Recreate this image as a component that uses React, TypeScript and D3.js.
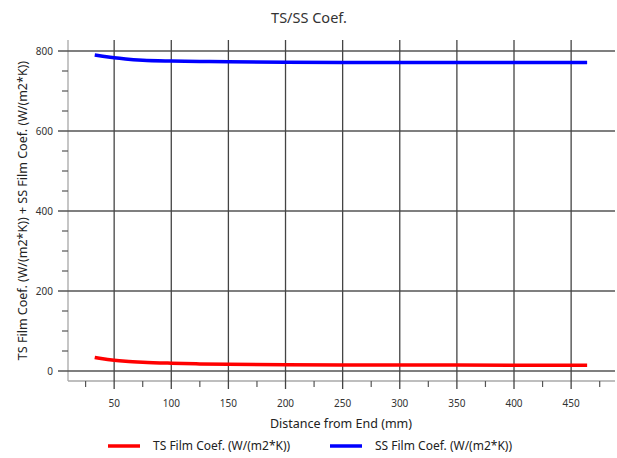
import React from "react";
import * as d3 from "d3";

const distance = [33, 40, 50, 60, 75, 100, 125, 150, 200, 250, 300, 350, 400, 450, 464];
const tsCoef = [34, 30.5, 27, 24.5, 22, 19.5, 17.8, 16.8, 15.8, 15.3, 15, 14.8, 14.6, 14.5, 14.5];
const ssCoef = [790, 787, 783, 780, 777, 775, 774, 773, 772, 771.5, 771, 771, 771, 771, 771];
const xMajorTicks = [50, 100, 150, 200, 250, 300, 350, 400, 450];
const xMinorTicks = [25, 75, 125, 175, 225, 275, 325, 375, 425, 475];
const yMajorTicks = [0, 200, 400, 600, 800];
const yMinorTicks = [50, 100, 150, 250, 300, 350, 450, 500, 550, 650, 700, 750];
const seriesNames = ["TS Film Coef. (W/(m2*K))", "SS Film Coef. (W/(m2*K))"];
const seriesColors = ["#ff0000", "#0000ff"];

const W = 617;
const H = 458;
const left = 68;
const right = 615;
const top = 40;
const bottom = 381;
const font = "'Segoe UI', 'Noto Sans', 'Open Sans', sans-serif";

export default function App() {
  const x = d3.scaleLinear().domain([9.6, 488.4]).range([left, right]);
  const y = d3.scaleLinear().domain([-25, 827.5]).range([bottom, top]);
  const line = d3
    .line<number>()
    .x((_, i) => x(distance[i]))
    .y((d) => y(d))
    .curve(d3.curveMonotoneX);
  const series = [tsCoef, ssCoef];
  const legendX = [108, 330];
  const clipRight = [297, 516];

  return (
    <svg
      width={W}
      height={H}
      style={{ position: "absolute", left: 0, top: 0, background: "#fff" }}
      fontFamily={font}
    >
      <defs>
        {legendX.map((lx, i) => (
          <clipPath id={"legclip" + i} key={"c" + i}>
            <rect x={lx} y={430} width={clipRight[i] - lx} height={28} />
          </clipPath>
        ))}
      </defs>
      <text x={309} y={23} textAnchor="middle" fontSize={14.5} fill="#333">
        TS/SS Coef.
      </text>

      {/* axes lines */}
      <line x1={left} x2={left} y1={top} y2={bottom} stroke="#a8a8a8" strokeWidth={1.3} />
      <line x1={left} x2={right} y1={bottom} y2={bottom} stroke="#a8a8a8" strokeWidth={1.3} />

      {/* y minor ticks */}
      {yMinorTicks.map((t) => (
        <line key={"ym" + t} x1={62} x2={left} y1={y(t)} y2={y(t)} stroke="#555" strokeWidth={1.2} />
      ))}
      {/* x minor ticks */}
      {xMinorTicks.map((t) => (
        <line key={"xm" + t} x1={x(t)} x2={x(t)} y1={bottom} y2={bottom + 6} stroke="#555" strokeWidth={1.2} />
      ))}

      {/* horizontal gridlines */}
      {yMajorTicks.map((t) => (
        <g key={"yg" + t}>
          <line x1={58} x2={right} y1={y(t)} y2={y(t)} stroke="#555" strokeWidth={1.3} />
          <text x={53} y={y(t) + 3.5} textAnchor="end" fontSize={10} fill="#333">
            {t}
          </text>
        </g>
      ))}
      {/* vertical gridlines */}
      {xMajorTicks.map((t) => (
        <g key={"xg" + t}>
          <line x1={x(t)} x2={x(t)} y1={top} y2={bottom + 8} stroke="#444" strokeWidth={1.3} />
          <text x={x(t)} y={407} textAnchor="middle" fontSize={10} fill="#333">
            {t}
          </text>
        </g>
      ))}

      {/* series */}
      {series.map((s, i) => (
        <path
          key={"s" + i}
          d={line(s) || ""}
          fill="none"
          stroke={seriesColors[i]}
          strokeWidth={3.5}
        />
      ))}

      <text x={341} y={428} textAnchor="middle" fontSize={12.5} fill="#222">
        Distance from End (mm)
      </text>
      <text
        transform={`translate(27,${(top + bottom) / 2}) rotate(-90)`}
        textAnchor="middle"
        fontSize={12.5}
        fill="#222"
      >
        TS Film Coef. (W/(m2*K)) + SS Film Coef. (W/(m2*K))
      </text>

      {/* legend */}
      {seriesNames.map((n, i) => (
        <g key={"lg" + i}>
          <line
            x1={legendX[i]}
            x2={legendX[i] + 32}
            y1={446}
            y2={446}
            stroke={seriesColors[i]}
            strokeWidth={3.5}
          />
          <text
            x={legendX[i] + 45}
            y={450}
            fontSize={12}
            fill="#222"
            clipPath={`url(#legclip${i})`}
          >
            {n}
          </text>
        </g>
      ))}
    </svg>
  );
}
